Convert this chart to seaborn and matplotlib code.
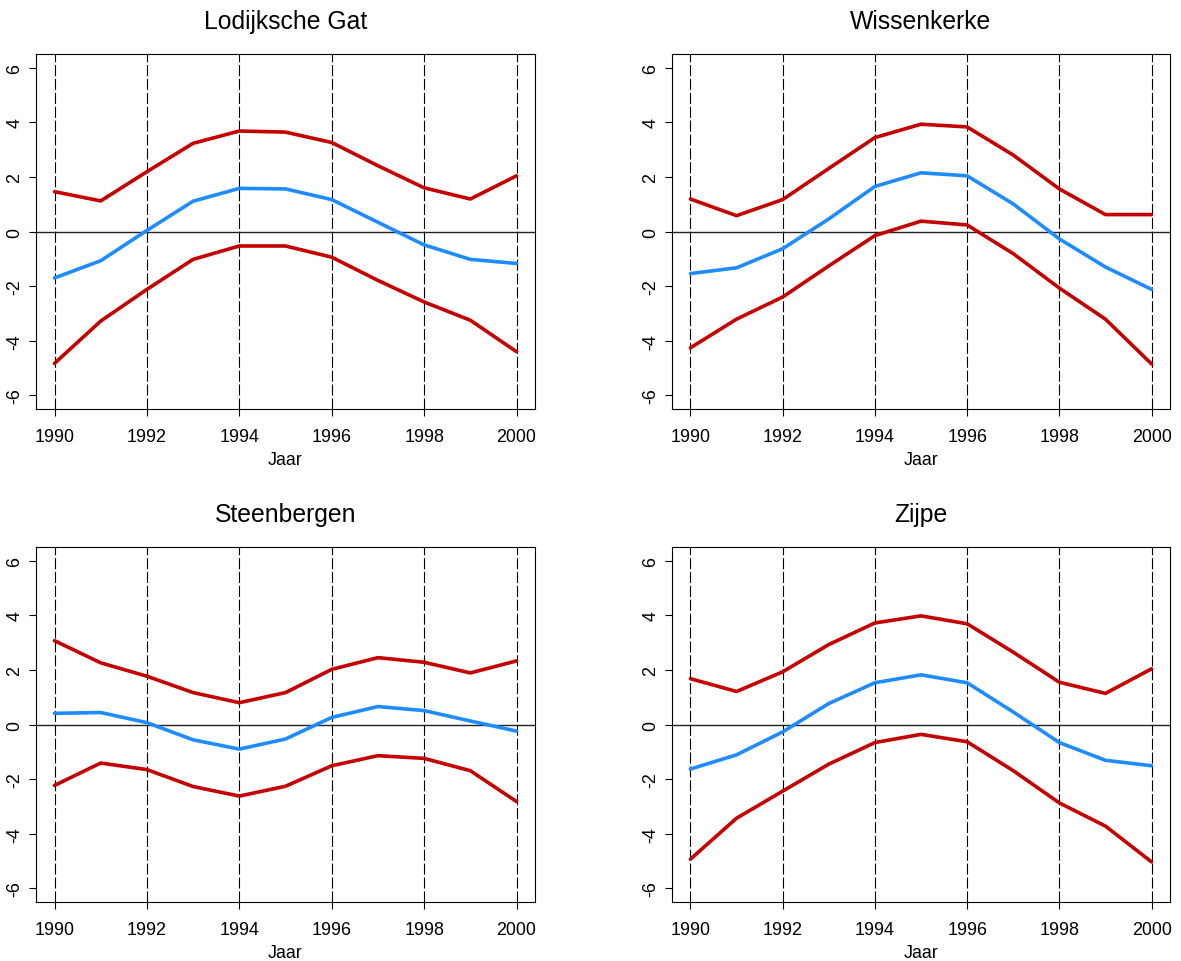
import pandas as pd
import matplotlib
matplotlib.use("Agg")
import matplotlib.pyplot as plt
import seaborn as sns

# Years and panel names
years = [1990, 1991, 1992, 1993, 1994, 1995, 1996, 1997, 1998, 1999, 2000]
locations = ["Lodijksche Gat", "Wissenkerke", "Steenbergen", "Zijpe"]

# Lodijksche Gat
lg_upper = [1.46, 1.12, 2.19, 3.23, 3.68, 3.64, 3.26, 2.41, 1.60, 1.19, 2.04]
lg_mid = [-1.70, -1.07, 0.04, 1.11, 1.58, 1.56, 1.17, 0.34, -0.49, -1.02, -1.17]
lg_lower = [-4.83, -3.28, -2.12, -1.02, -0.53, -0.53, -0.94, -1.79, -2.58, -3.25, -4.40]

# Wissenkerke
wk_upper = [1.19, 0.58, 1.17, 2.31, 3.44, 3.93, 3.83, 2.80, 1.56, 0.62, 0.62]
wk_mid = [-1.54, -1.33, -0.63, 0.46, 1.65, 2.15, 2.04, 1.01, -0.27, -1.30, -2.12]
wk_lower = [-4.26, -3.21, -2.40, -1.26, -0.15, 0.38, 0.24, -0.81, -2.07, -3.21, -4.85]

# Steenbergen
sb_upper = [3.07, 2.26, 1.77, 1.17, 0.80, 1.17, 2.02, 2.45, 2.28, 1.89, 2.33]
sb_mid = [0.41, 0.44, 0.07, -0.56, -0.90, -0.53, 0.26, 0.66, 0.51, 0.13, -0.24]
sb_lower = [-2.23, -1.41, -1.65, -2.27, -2.62, -2.26, -1.51, -1.14, -1.24, -1.69, -2.82]

# Zijpe
zp_upper = [1.68, 1.21, 1.93, 2.93, 3.72, 3.98, 3.69, 2.65, 1.55, 1.14, 2.04]
zp_mid = [-1.63, -1.11, -0.27, 0.77, 1.53, 1.82, 1.53, 0.46, -0.66, -1.31, -1.51]
zp_lower = [-4.93, -3.43, -2.44, -1.45, -0.66, -0.36, -0.63, -1.69, -2.87, -3.72, -5.03]

x_ticks = [1990, 1992, 1994, 1996, 1998, 2000]
y_ticks = [-6, -4, -2, 0, 2, 4, 6]

panels = {
    "Lodijksche Gat": (lg_upper, lg_mid, lg_lower),
    "Wissenkerke": (wk_upper, wk_mid, wk_lower),
    "Steenbergen": (sb_upper, sb_mid, sb_lower),
    "Zijpe": (zp_upper, zp_mid, zp_lower),
}

sns.set_theme(style="white")
plt.rcParams["font.family"] = ["Liberation Sans", "DejaVu Sans"]
plt.rcParams["axes.unicode_minus"] = False
plt.rcParams["lines.scale_dashes"] = False

red = "#C40000"
blue = "#1E8CFF"

fig = plt.figure(figsize=(11.81, 9.62), dpi=100)
positions = [
    [0.0305, 0.5738, 0.4225, 0.3690],
    [0.5690, 0.5738, 0.4217, 0.3690],
    [0.0305, 0.0613, 0.4225, 0.3690],
    [0.5690, 0.0613, 0.4217, 0.3690],
]

for name, pos in zip(locations, positions):
    ax = fig.add_axes(pos)
    upper, mid, lower = panels[name]
    df = pd.DataFrame({
        "Jaar": years * 3,
        "waarde": upper + mid + lower,
        "reeks": ["boven"] * len(years) + ["midden"] * len(years) + ["onder"] * len(years),
    })

    for t in x_ticks:
        ax.axvline(t, color="black", linewidth=0.8, dashes=(8, 2), zorder=1)
    ax.axhline(0, color="#222222", linewidth=1.0, zorder=1)

    sns.lineplot(data=df, x="Jaar", y="waarde", hue="reeks", units="reeks", estimator=None,
                 palette={"boven": red, "midden": blue, "onder": red},
                 linewidth=2.6, legend=False, ax=ax, zorder=3)

    ax.set_xlim(1989.6, 2000.4)
    ax.set_ylim(-6.5, 6.5)
    ax.set_xticks(x_ticks)
    ax.set_yticks(y_ticks)
    ax.set_yticklabels([str(v) for v in y_ticks], rotation=90, va="center")
    ax.tick_params(axis="both", which="major", direction="out", length=5, width=0.8,
                   labelsize=12.9, color="black", labelcolor="black", bottom=True, left=True)
    ax.tick_params(axis="x", pad=9)
    ax.tick_params(axis="y", pad=4)
    ax.set_xlabel("Jaar", fontsize=12.9, color="black", labelpad=4)
    ax.set_ylabel("")
    ax.set_title(name, fontsize=17.8, color="black", pad=18.5)
    for s in ax.spines.values():
        s.set_color("black")
        s.set_linewidth(0.8)
        s.set_visible(True)

fig.savefig("out.png", dpi=100, facecolor="white")
